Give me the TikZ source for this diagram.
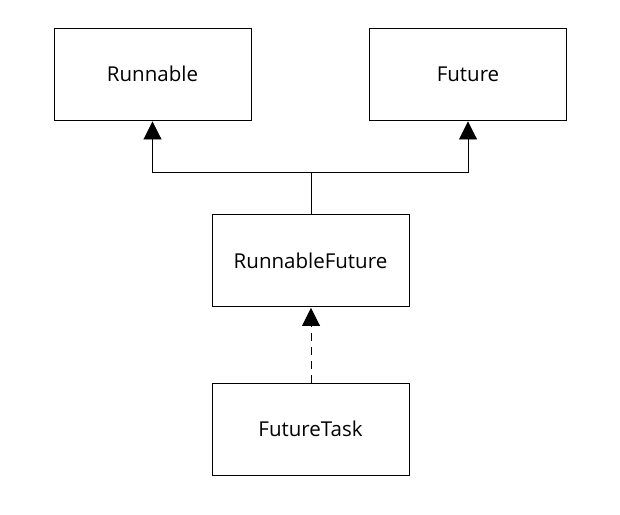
\documentclass[tikz,border=0pt]{standalone}
\usepackage{fontspec}
\setmainfont{Open Sans}
\usetikzlibrary{arrows.meta}
\tikzset{
        x=1pt, y=-1pt,
        classbox/.style={draw=black, line width=0.9pt, minimum width=197pt, minimum height=92pt, inner sep=0pt, font=\fontsize{20.5}{24}\selectfont},
        inherit/.style={line width=0.9pt, -{Triangle[length=18pt, width=18pt]}, shorten >=1pt},
        realize/.style={inherit, dash pattern=on 8pt off 6pt}
          }
\begin{document}
\begin{tikzpicture}
            \useasboundingbox (0,0) rectangle (620,514);
            \node[classbox] (runnable) at (152.5,74) {Runnable};
            \node[classbox] (future) at (468,74) {Future};
            \node[classbox] (rfuture) at (310.5,260.5) {RunnableFuture};
            \node[classbox] (ftask) at (310.5,429) {FutureTask};
            \coordinate (join) at (311,172);
            \draw[inherit] (rfuture.north -| join) -- (join) -| (runnable.south);
            \draw[inherit] (join) -| (future.south);
            \draw[realize] (ftask.north -| join) -- (rfuture.south -| join);
          \end{tikzpicture}
\end{document}
